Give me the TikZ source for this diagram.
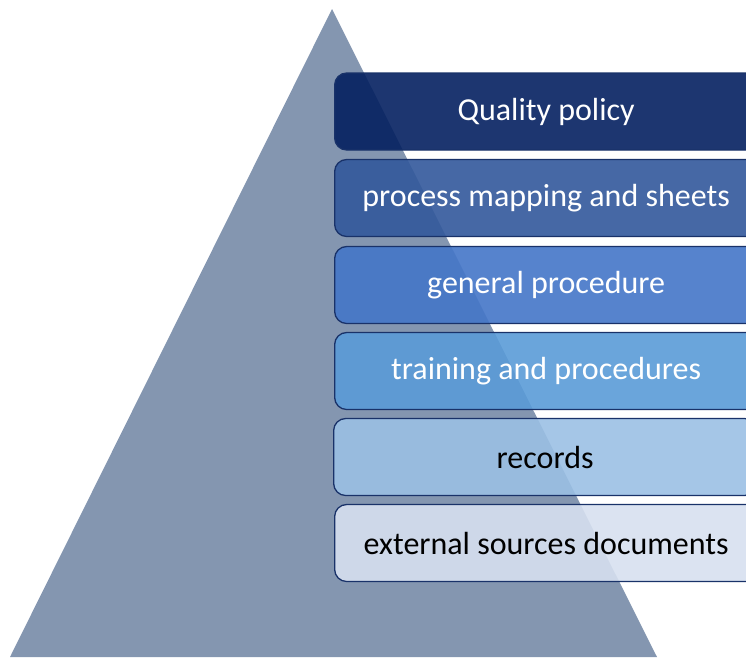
\documentclass[tikz,border=0pt]{standalone}
\usepackage{fontspec}
\setmainfont{Carlito}
\definecolor{tri}{RGB}{132,150,176}
\definecolor{edge}{RGB}{25,50,105}
\definecolor{cA}{RGB}{4,32,96}
\definecolor{cB}{RGB}{50,88,155}
\definecolor{cC}{RGB}{68,118,200}
\definecolor{cD}{RGB}{90,155,215}
\definecolor{cE}{RGB}{155,192,228}
\definecolor{cF}{RGB}{215,224,240}
\tikzset{
  layer/.style={draw=edge, line width=1.3pt, rounded corners=12pt, fill opacity=0.9, text opacity=1,
    minimum width=423pt, minimum height=77pt, inner sep=0pt,
    font=\fontsize{32}{38}\selectfont, anchor=west},
  lighttext/.style={text=white},
  darktext/.style={text=black}
}
\begin{document}
\begin{tikzpicture}[x=1pt,y=-1pt]
\useasboundingbox (0,0) rectangle (746,657);
\clip (0,0) rectangle (746,657);
\coordinate (apex) at (332,9);
\coordinate (bl) at (10,657);
\coordinate (br) at (657,657);
\fill[tri] (apex) -- (br) -- (bl) -- cycle;
\node[layer, lighttext, fill=cA] (q) at (334,111.5) {Quality policy};
\node[layer, lighttext, fill=cB] (p) at (334,198) {process mapping and sheets};
\node[layer, lighttext, fill=cC] (g) at (334,285) {general procedure};
\node[layer, lighttext, fill=cD] (t) at (334,371) {training and procedures};
\node[layer, darktext, fill=cE] (r) at (333,457) {records};
\node[layer, darktext, fill=cF] (e) at (334,543) {external sources documents};
\end{tikzpicture}
\end{document}
